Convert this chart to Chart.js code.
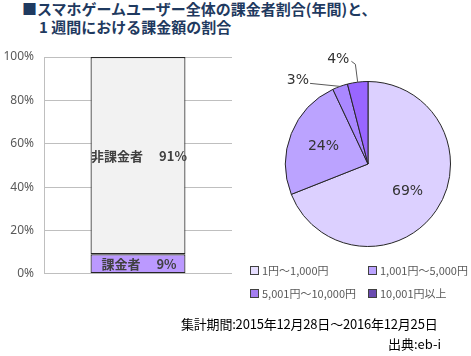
<!DOCTYPE html>
<html><head><meta charset="utf-8">
<script src="https://cdn.jsdelivr.net/npm/chart.js@4/dist/chart.umd.min.js"></script>
<style>
html,body{margin:0;padding:0;background:#fff;width:471px;height:356px;overflow:hidden;font-family:"Noto Sans CJK JP","Noto Sans",sans-serif;}
#title{position:absolute;left:22px;top:0px;font-size:15px;font-weight:bold;color:#1F3A60;line-height:18px;white-space:nowrap;}
#title .l2{padding-left:17px;}
canvas{position:absolute;display:block;}
#bar{left:0;top:47px;}
#pie{left:240px;top:45px;}
#legend{position:absolute;left:250px;top:262px;width:221px;font-size:11px;color:#595959;}
.li{position:absolute;white-space:nowrap;display:flex;align-items:center;}
.sw{width:7px;height:7px;border:1px solid #404040;margin-right:3px;display:inline-block;}
#period{position:absolute;left:181px;top:314px;font-size:13px;color:#000;white-space:nowrap;letter-spacing:-0.2px;}
#src{position:absolute;right:30px;top:334px;font-size:13px;color:#000;white-space:nowrap;}
</style></head>
<body>
<div id="title">■スマホゲームユーザー全体の課金者割合(年間)と、<br><span class="l2">1 週間における課金額の割合</span></div>
<canvas id="bar" width="240" height="235"></canvas>
<canvas id="pie" width="231" height="220"></canvas>
<div id="legend"></div>
<div id="period">集計期間:2015年12月28日～2016年12月25日</div>
<div id="src">出典:eb-i</div>
<script>
// ---- data ----
const barCategories = [""];
const barSeriesNames = ["課金者", "非課金者"];
const payerValues = [9];
const nonPayerValues = [91];
const yTicks = [0, 20, 40, 60, 80, 100];

const pieLabels = ["1円～1,000円", "1,001円～5,000円", "5,001円～10,000円", "10,001円以上"];
const pieValues = [69, 24, 3, 4];
const pieColors = ["#DCD0FF", "#BBA3FF", "#AA88FF", "#9966FF"];
const legendColors = ["#E6DEFF", "#BBA3FF", "#A47EF0", "#6A4BB0"];

// ---- bar chart ----
const barLabelPlugin = {
  id: 'barLabels',
  afterDatasetsDraw(chart) {
    const ctx = chart.ctx;
    ctx.save();
    ctx.fillStyle = '#404040';
    ctx.font = 'bold 13px "Noto Sans CJK JP", sans-serif';
    ctx.textAlign = 'center';
    ctx.textBaseline = 'middle';
    chart.data.datasets.forEach((ds, i) => {
      const meta = chart.getDatasetMeta(i);
      meta.data.forEach((el, j) => {
        const yMid = (el.y + el.base) / 2;
        ctx.fillText(ds.label + '\u3000 ' + ds.data[j] + '%', el.x + 1, yMid);
      });
    });
    ctx.restore();
  }
};

new Chart(document.getElementById('bar'), {
  type: 'bar',
  data: {
    labels: barCategories,
    datasets: [
      { label: barSeriesNames[0], data: payerValues, backgroundColor: '#BB99FF', borderColor: '#262626', borderWidth: 1.2, borderSkipped: false },
      { label: barSeriesNames[1], data: nonPayerValues, backgroundColor: '#F2F2F2', borderColor: '#262626', borderWidth: 1.2, borderSkipped: false }
    ]
  },
  options: {
    responsive: false, animation: false, devicePixelRatio: 1,
    layout: { padding: { top: 10, right: 8, bottom: 8, left: 0 } },
    plugins: { legend: { display: false }, tooltip: { enabled: false } },
    datasets: { bar: { barPercentage: 0.505, categoryPercentage: 1.0 } },
    scales: {
      x: { stacked: true, display: false },
      y: { stacked: true, min: 0, max: 100,
           afterBuildTicks(s) { s.ticks = yTicks.map(v => ({ value: v })); },
           grid: { color: '#BFBFBF', drawTicks: true, tickLength: 9, tickColor: 'rgba(0,0,0,0)', lineWidth: 1 },
           border: { display: true, color: '#BFBFBF' },
           ticks: { callback: v => v + '%', color: '#595959', padding: 1, font: { size: 12, family: '"Noto Sans", sans-serif' } },
           afterFit(s) { s.width = 44; } }
    }
  },
  plugins: [barLabelPlugin]
});

// ---- pie chart ----
const pieLabelPlugin = {
  id: 'pieLabels',
  afterDatasetsDraw(chart) {
    const ctx = chart.ctx;
    const meta = chart.getDatasetMeta(0);
    const vals = chart.data.datasets[0].data;
    ctx.save();
    ctx.fillStyle = '#333';
    ctx.font = '14px "DejaVu Sans", sans-serif';
    ctx.textBaseline = 'middle';
    meta.data.forEach((arc, i) => {
      const mid = (arc.startAngle + arc.endAngle) / 2;
      const r = arc.outerRadius;
      const txt = vals[i] + '%';
      if (vals[i] >= 10) {
        ctx.textAlign = 'center';
        ctx.fillText(txt, arc.x + Math.cos(mid) * r * 0.58, arc.y + Math.sin(mid) * r * 0.58);
      } else {
        const sx = arc.x + Math.cos(mid) * r, sy = arc.y + Math.sin(mid) * r;
        let ex, ey, lx, ly;
        if (i === 2) { ex = sx - 30; ey = sy - 3; lx = ex - 1; ly = ey - 3; }
        else { ex = arc.x + Math.cos(mid) * (r + 18); ey = arc.y + Math.sin(mid) * (r + 18); lx = ex - 6; ly = ey - 5; }
        ctx.strokeStyle = '#595959'; ctx.lineWidth = 1;
        ctx.beginPath(); ctx.moveTo(sx, sy); ctx.lineTo(ex, ey);
        if (i !== 2) ctx.lineTo(ex - 4, ey - 3);
        ctx.stroke();
        ctx.textAlign = 'right';
        ctx.fillText(txt, lx, ly);
      }
    });
    ctx.restore();
  }
};

new Chart(document.getElementById('pie'), {
  type: 'pie',
  data: { labels: pieLabels, datasets: [{ data: pieValues, backgroundColor: pieColors, borderColor: '#262626', borderWidth: 1 }] },
  options: {
    responsive: false, animation: false, devicePixelRatio: 1,
    layout: { padding: { top: 36, right: 20, bottom: 18, left: 45 } },
    plugins: { legend: { display: false }, tooltip: { enabled: false } }
  },
  plugins: [pieLabelPlugin]
});

// ---- legend ----
const lg = document.getElementById('legend');
const pos = [[0, 0], [118, 0], [0, 23], [118, 23]];
pieLabels.forEach((l, i) => {
  const d = document.createElement('div');
  d.className = 'li';
  d.style.left = pos[i][0] + 'px'; d.style.top = pos[i][1] + 'px';
  d.innerHTML = '<span class="sw" style="background:' + legendColors[i] + '"></span>' + l;
  lg.appendChild(d);
});
</script>
</body></html>
